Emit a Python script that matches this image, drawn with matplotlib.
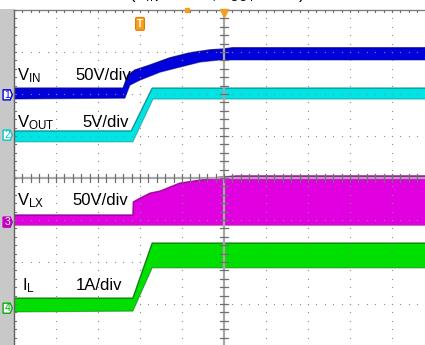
import numpy as np
import matplotlib
matplotlib.use("Agg")
import matplotlib.pyplot as plt
from matplotlib.patches import Rectangle, Polygon

plt.rcParams["font.family"] = ["Liberation Sans", "DejaVu Sans"]
plt.rcParams["mathtext.default"] = "regular"

# screen units: 10 horizontal divisions, 8 vertical divisions (centre = 0)

# CH1 - VIN (50 V/div)
vin_t_hi = [0, 2.60, 2.71, 2.88, 3.24, 3.71, 4.19, 4.67, 4.98, 5.20, 10]
vin_hi = [2.14, 2.14, 2.45, 2.57, 2.69, 2.86, 2.98, 3.05, 3.07, 3.10, 3.10]
vin_t_lo = [0, 2.64, 2.76, 3.00, 3.48, 3.95, 4.43, 4.90, 5.20, 10]
vin_lo = [1.88, 1.90, 2.21, 2.33, 2.52, 2.64, 2.76, 2.81, 2.81, 2.81]

# CH2 - VOUT (5 V/div)
vout_t_hi = [0, 2.79, 3.29, 10]
vout_hi = [1.12, 1.12, 2.14, 2.14]
vout_t_lo = [0, 2.83, 3.31, 10]
vout_lo = [0.86, 0.86, 1.88, 1.88]

# CH3 - VLX (50 V/div)
vlx_t_hi = [0, 2.83, 2.84, 3.00, 3.24, 3.48, 3.95, 4.43, 4.90, 5.30, 10]
vlx_hi = [-0.88, -0.88, -0.57, -0.48, -0.36, -0.31, -0.12, -0.05, 0.02, 0.05, 0.05]
vlx_t_lo = [0, 10]
vlx_lo = [-1.12, -1.12]

# CH4 - IL (1 A/div)
il_t_hi = [0, 2.83, 3.29, 10]
il_hi = [-2.86, -2.86, -1.55, -1.55]
il_t_lo = [0, 2.83, 3.29, 10]
il_lo = [-3.19, -3.17, -2.14, -2.14]

# channel ground markers
ch_names = ["1", "2", "3", "4"]
ch_level = [1.98, 1.02, -1.05, -3.10]

fig = plt.figure(figsize=(4.25, 3.45), dpi=100)
fig.patch.set_facecolor("white")

# grey strip on the left with the channel markers
fig.add_artist(Rectangle((0, 0), 14 / 425, 1 - 9 / 345, transform=fig.transFigure,
                         facecolor="#c8c8c8", edgecolor="none", zorder=0))

ax = fig.add_axes([14 / 425, -1 / 345, 420 / 425, 336 / 345])
ax.set_xlim(0, 10)
ax.set_ylim(-4, 4)
ax.axis("off")


def trace(t_hi, hi, t_lo, lo, face, edge):
    xs = np.r_[t_hi, t_lo[::-1]]
    ys = np.r_[hi, lo[::-1]]
    ax.fill(xs, ys, color=face, lw=0, zorder=2)
    ax.plot(t_hi, hi, color=edge, lw=1.0, alpha=0.8, zorder=3)
    ax.plot(t_lo, lo, color=edge, lw=0.8, alpha=0.5, zorder=3)


trace(vin_t_hi, vin_hi, vin_t_lo, vin_lo, "#0000dc", "#000080")
trace(vout_t_hi, vout_hi, vout_t_lo, vout_lo, "#00e4e4", "#008080")
trace(vlx_t_hi, vlx_hi, vlx_t_lo, vlx_lo, "#e000e0", "#800080")
trace(il_t_hi, il_hi, il_t_lo, il_lo, "#00e000", "#006400")

# dotted graticule
minor = np.arange(0, 10.01, 0.2)
for gy in range(-3, 4):
    if gy == 0:
        continue
    ax.scatter(minor, np.full_like(minor, gy), s=0.8, color="#8c8c8c", lw=0, zorder=4)
minor_v = np.arange(-4, 4.01, 0.2)
for gx in range(1, 10):
    if gx == 5:
        continue
    ax.scatter(np.full_like(minor_v, gx), minor_v, s=0.8, color="#8c8c8c", lw=0, zorder=4)

# centre axes with tick marks
ax.plot([5, 5], [-4, 4], color="#a8a8a8", lw=1.6, zorder=4)
ax.plot([0, 10], [0, 0], color="#a8a8a8", lw=1.6, zorder=4)
for v in minor_v:
    ax.plot([4.9, 5.1], [v, v], color="#707070", lw=0.9, zorder=5)
for h in minor:
    ax.plot([h, h], [-0.1, 0.1], color="#707070", lw=0.9, zorder=5)

# frame with ticks
ax.plot([0, 10], [4, 4], color="#808080", lw=1.0, zorder=5, clip_on=False)
ax.plot([0, 0], [-4, 4], color="#606060", lw=1.0, zorder=5, clip_on=False)
for h in minor:
    ax.plot([h, h], [4, 3.95], color="#707070", lw=0.8, zorder=5, clip_on=False)
for v in minor_v:
    ax.plot([0, 0.05], [v, v], color="#707070", lw=0.8, zorder=5, clip_on=False)

# channel markers
ch_col = ["#0000dc", "#00c8c8", "#c000c0", "#00b000"]
for name, lvl, c in zip(ch_names, ch_level, ch_col):
    pts = [(-0.26, lvl - 0.12), (-0.09, lvl - 0.12), (-0.04, lvl),
           (-0.09, lvl + 0.12), (-0.26, lvl + 0.12)]
    filled = name == "3"
    ax.add_patch(Polygon(pts, closed=True, facecolor=c if filled else "white",
                         edgecolor=c, lw=1.0, zorder=6, clip_on=False))
    ax.text(-0.155, lvl, name, ha="center", va="center", fontsize=7.5,
            color="white" if filled else c, zorder=7, clip_on=False)

# channel labels
fs = 12
ax.text(0.07, 2.33, "V$_{IN}$", fontsize=fs, va="baseline", zorder=8)
ax.text(1.45, 2.33, "50V/div", fontsize=fs, va="baseline", zorder=8)
ax.text(0.07, 1.21, "V$_{OUT}$", fontsize=fs, va="baseline", zorder=8)
ax.text(1.64, 1.21, "5V/div", fontsize=fs, va="baseline", zorder=8)
ax.text(0.07, -0.64, "V$_{LX}$", fontsize=fs, va="baseline", zorder=8)
ax.text(1.40, -0.64, "50V/div", fontsize=fs, va="baseline", zorder=8)
ax.text(0.19, -2.67, "I$_{L}$", fontsize=fs, va="baseline", zorder=8)
ax.text(1.47, -2.67, "1A/div", fontsize=fs, va="baseline", zorder=8)

# trigger markers
ax.text(3.0, 3.67, "T", ha="center", va="center", fontsize=7, color="white",
        fontweight="bold", zorder=8,
        bbox=dict(boxstyle="round,pad=0.15", fc="#f5a020", ec="#e08000", lw=0.8))
ax.plot(5, 3.93, marker="v", color="#f0a020", ms=6, zorder=8, clip_on=False)
ax.plot(4.12, 4.0, marker="s", color="#f0a020", ms=3, zorder=8, clip_on=False)

# test conditions line at the top (runs off the top edge of the capture)
fig.text(0.51, 1 + 1 / 345, "(V$_{IN}$ = 48 V,  I$_{OUT}$ = 2 A)", ha="center",
         va="baseline", fontsize=12)

fig.savefig("out.png", dpi=100)
